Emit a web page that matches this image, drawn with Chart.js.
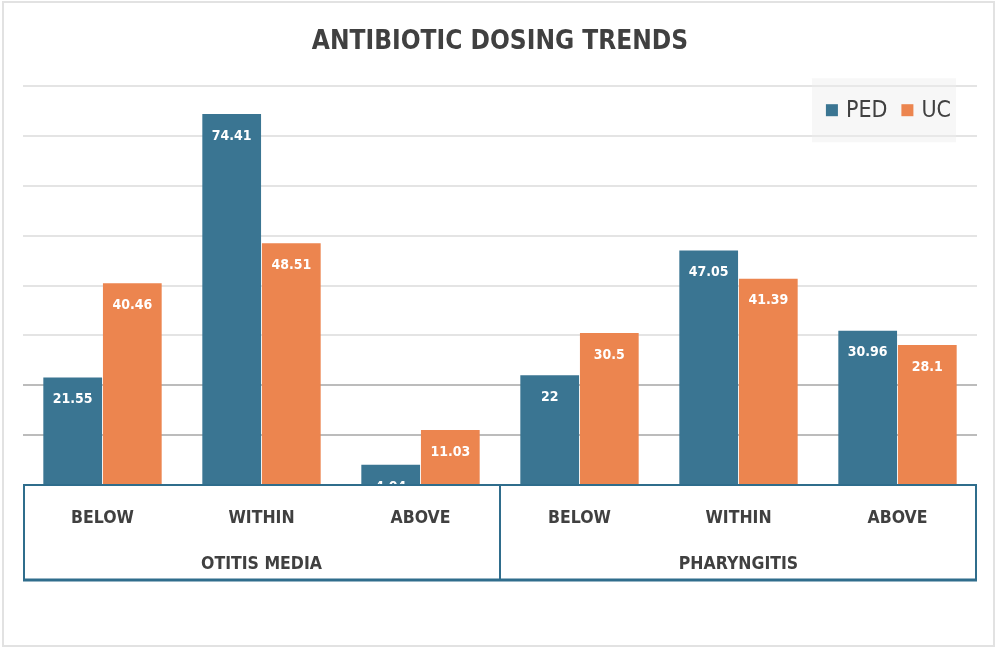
<!DOCTYPE html>
<html>
<head>
<meta charset="utf-8">
<script src="https://cdn.jsdelivr.net/npm/chart.js@4/dist/chart.umd.min.js"></script>
<style>
  html, body { margin: 0; padding: 0; background: #fff; }
  #frame { position: absolute; left: 2px; top: 1px; width: 993px; height: 646px; border: 2px solid #e2e2e2; box-sizing: border-box; }
  #chart { position: absolute; left: 0; top: 0; }
</style>
</head>
<body>
<div id="frame"></div>
<canvas id="chart" width="995" height="648"></canvas>
<script>
// data
var categories = ['BELOW', 'WITHIN', 'ABOVE', 'BELOW', 'WITHIN', 'ABOVE'];
var groups = ['OTITIS MEDIA', 'PHARYNGITIS'];
var seriesNames = ['PED', 'UC'];
var pedValues = [21.55, 74.41, 4.04, 22, 47.05, 30.96];
var ucValues = [40.46, 48.51, 11.03, 30.5, 41.39, 28.1];
var yMax = 80;
var yStep = 10;

var BLUE = '#3a7592';
var ORANGE = '#ec854f';
var LINE = '#2f6d8c';
var TEXT = '#404040';
var NARROW = '"Liberation Sans Narrow", "DejaVu Sans Condensed", Roboto, sans-serif';

// value labels inside the top of each bar
var barLabels = {
  id: 'barLabels',
  afterDatasetsDraw: function(chart) {
    var ctx = chart.ctx;
    var a = chart.chartArea;
    ctx.save();
    ctx.beginPath();
    ctx.rect(a.left, a.top, a.right - a.left, a.bottom - a.top);
    ctx.clip();
    ctx.fillStyle = '#ffffff';
    ctx.font = 'bold 14px ' + NARROW;
    ctx.textAlign = 'center';
    ctx.textBaseline = 'middle';
    chart.data.datasets.forEach(function(ds, i) {
      chart.getDatasetMeta(i).data.forEach(function(bar, j) {
        ctx.fillText(String(ds.data[j]), bar.x, bar.y + 22);
      });
    });
    ctx.restore();
  }
};

// box around the two-level category axis
var axisBox = {
  id: 'axisBox',
  afterDraw: function(chart) {
    var ctx = chart.ctx;
    var x = chart.scales.x;
    var x2 = chart.scales.x2;
    var top = chart.chartArea.bottom;
    var bottom = x2.bottom;
    var mid = x.getPixelForValue(2.5);
    ctx.save();
    ctx.strokeStyle = LINE;
    ctx.lineWidth = 2;
    ctx.beginPath();
    ctx.moveTo(x.left, top);
    ctx.lineTo(x.right, top);
    [x.left + 1, mid, x.right - 1].forEach(function(px) {
      ctx.moveTo(px, top);
      ctx.lineTo(px, bottom);
    });
    ctx.stroke();
    ctx.lineWidth = 3;
    ctx.beginPath();
    ctx.moveTo(x.left, bottom);
    ctx.lineTo(x.right, bottom);
    ctx.stroke();
    ctx.restore();
  }
};

// legend in a light box over the top right of the plot
var legendBox = {
  id: 'legendBox',
  beforeDatasetsDraw: function(chart) {
    var ctx = chart.ctx;
    var a = chart.chartArea;
    var right = a.right - 21;
    var top = a.top - 8;
    var h = 64;
    var sq = 12;
    ctx.save();
    ctx.font = '23px ' + NARROW;
    var widths = chart.data.datasets.map(function(ds) { return ctx.measureText(ds.label).width; });
    var total = 14 + 5;
    widths.forEach(function(w) { total += sq + 8 + w; });
    total += 14 * (widths.length - 1);
    var left = right - total;
    ctx.fillStyle = 'rgba(238,238,238,0.45)';
    ctx.fillRect(left, top, total, h);
    var cx = left + 14;
    var cy = top + h / 2;
    ctx.textBaseline = 'middle';
    ctx.textAlign = 'left';
    chart.data.datasets.forEach(function(ds, i) {
      ctx.fillStyle = ds.backgroundColor;
      ctx.fillRect(cx, cy - sq / 2, sq, sq);
      cx += sq + 8;
      ctx.fillStyle = TEXT;
      ctx.fillText(ds.label, cx, cy + 1);
      cx += widths[i] + 14;
    });
    ctx.restore();
  }
};

new Chart(document.getElementById('chart'), {
  type: 'bar',
  data: {
    labels: categories,
    datasets: [{
      label: seriesNames[0],
      data: pedValues,
      backgroundColor: BLUE,
      categoryPercentage: 0.75,
      barPercentage: 0.985
    }, {
      label: seriesNames[1],
      data: ucValues,
      backgroundColor: ORANGE,
      categoryPercentage: 0.75,
      barPercentage: 0.985
    }]
  },
  options: {
    responsive: false,
    animation: false,
    layout: { padding: { left: 23, right: 18, top: 0, bottom: 68 } },
    plugins: {
      legend: { display: false },
      tooltip: { enabled: false },
      title: {
        display: true,
        text: 'ANTIBIOTIC DOSING TRENDS',
        color: TEXT,
        font: { family: NARROW, size: 26, weight: 'bold' },
        padding: { top: 27, bottom: 28 }
      }
    },
    scales: {
      y: {
        min: 0,
        max: yMax,
        ticks: { display: false, stepSize: yStep },
        border: { display: false },
        grid: {
          drawTicks: false,
          lineWidth: 2,
          color: function(c) {
            if (c.tick.value === 0) return 'rgba(0,0,0,0)';
            return c.tick.value <= 20 ? '#bcbcbc' : '#e4e4e4';
          }
        }
      },
      x: {
        position: 'bottom',
        grid: { display: false, drawTicks: false, tickLength: 0 },
        border: { display: false },
        ticks: { color: TEXT, padding: 23, font: { family: NARROW, size: 17.5, weight: 'bold' }, maxRotation: 0 },
        afterFit: function(scale) { scale.height = 57; }
      },
      x2: {
        type: 'category',
        labels: groups,
        position: 'bottom',
        offset: true,
        grid: { display: false, drawTicks: false, tickLength: 0 },
        border: { display: false },
        ticks: { color: TEXT, padding: 12, font: { family: NARROW, size: 17.5, weight: 'bold' }, maxRotation: 0 },
        afterFit: function(scale) { scale.height = 38; }
      }
    }
  },
  plugins: [legendBox, barLabels, axisBox]
});
</script>
</body>
</html>
